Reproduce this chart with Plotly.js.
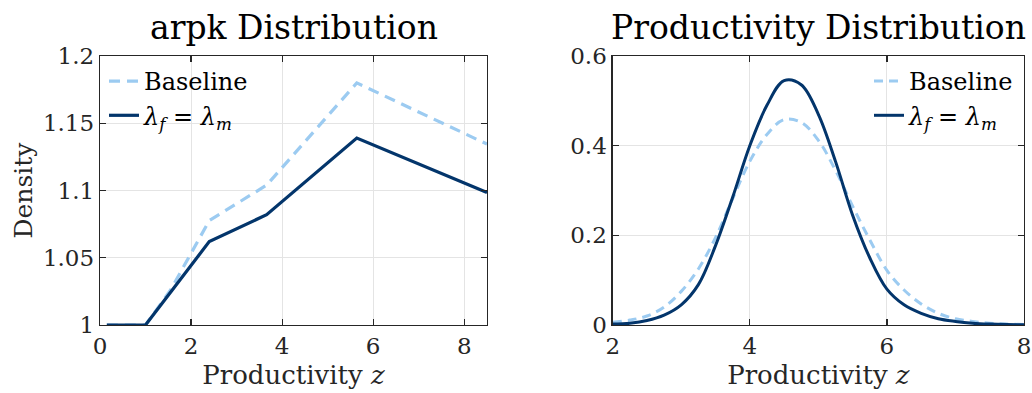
<!DOCTYPE html>
<html>
<head>
<meta charset="utf-8">
<script src="https://cdn.plot.ly/plotly-3.0.1.min.js"></script>
<style>html,body{margin:0;padding:0;background:#fff;}#chart{width:1032px;height:393px;}</style>
</head>
<body>
<div id="chart"></div>
<script>
// ---- Left panel: arpk distribution ----
const zArpk = [0.15, 1.0, 1.55, 2.4, 3.66, 5.64, 8.5];
const arpkBaseline = [1.0, 1.0, 1.026, 1.0776, 1.104, 1.180, 1.1345];
const arpkEqual = [1.0, 1.0, 1.0244, 1.062, 1.082, 1.139, 1.0985];

// ---- Right panel: productivity distribution ----
const zProd = [2.0, 2.25, 2.5, 2.75, 3.0, 3.25, 3.5, 3.75, 4.0, 4.25, 4.5, 4.75, 5.0,
               5.25, 5.5, 5.75, 6.0, 6.25, 6.5, 6.75, 7.0, 7.25, 7.5, 7.75, 8.0];
const prodBaseline = [0.006, 0.011, 0.020, 0.040, 0.075, 0.125, 0.195, 0.282, 0.365, 0.425, 0.458, 0.452, 0.412,
                      0.345, 0.265, 0.190, 0.122, 0.078, 0.047, 0.026, 0.014, 0.008, 0.004, 0.002, 0.001];
const prodEqual = [0.002, 0.004, 0.010, 0.022, 0.045, 0.090, 0.177, 0.285, 0.400, 0.490, 0.545, 0.536, 0.470,
                   0.365, 0.245, 0.150, 0.080, 0.045, 0.026, 0.014, 0.008, 0.004, 0.002, 0.001, 0.0005];

const leftTicks = [0, 2, 4, 6, 8];
const rightTicks = [2, 4, 6, 8];
const leftYTicks = [1, 1.05, 1.1, 1.15, 1.2];
const leftYLabels = ['1', '1.05', '1.1', '1.15', '1.2'];
const rightYTicks = [0, 0.2, 0.4, 0.6];
const rightYLabels = ['0', '0.2', '0.4', '0.6'];

const seriesNames = ['Baseline', '<i>λ<sub>f</sub></i> = <i>λ<sub>m</sub></i>'];

const FAM = 'DejaVu Serif';
const LIGHT = '#9ccbf1';
const DARK = '#03356b';

const traces = [
  {x: zArpk, y: arpkBaseline, xaxis: 'x', yaxis: 'y', mode: 'lines', name: seriesNames[0],
   line: {color: LIGHT, width: 3.2, dash: '11px,7px'}, legend: 'legend'},
  {x: zArpk, y: arpkEqual, xaxis: 'x', yaxis: 'y', mode: 'lines', name: seriesNames[1],
   line: {color: DARK, width: 3.2}, legend: 'legend'},
  {x: zProd, y: prodBaseline, xaxis: 'x2', yaxis: 'y2', mode: 'lines', name: seriesNames[0],
   line: {color: LIGHT, width: 3, dash: '9px,6px', shape: 'spline', smoothing: 1}, legend: 'legend2'},
  {x: zProd, y: prodEqual, xaxis: 'x2', yaxis: 'y2', mode: 'lines', name: seriesNames[1],
   line: {color: DARK, width: 3, shape: 'spline', smoothing: 1}, legend: 'legend2'}
];

const W = 1032, H = 393;
const axCommon = {
  showline: true, mirror: 'ticks', linecolor: '#262626', linewidth: 1.3,
  ticks: 'inside', ticklen: 6, tickcolor: '#262626', tickwidth: 1.2,
  showgrid: true, gridcolor: '#e4e4e4', gridwidth: 1,
  zeroline: false, automargin: false, fixedrange: true,
  tickfont: {family: FAM, size: 23, color: '#262626'}
};

const layout = {
  width: W, height: H,
  margin: {l: 0, r: 0, t: 0, b: 0},
  paper_bgcolor: '#ffffff', plot_bgcolor: '#ffffff',
  font: {family: FAM, color: '#262626', size: 23},
  showlegend: true,
  xaxis: Object.assign({}, axCommon, {
    domain: [100 / W, 487 / W], range: [0, 8.5], anchor: 'y',
    tickmode: 'array', tickvals: leftTicks, ticktext: leftTicks.map(String),
    title: {text: 'Productivity <i>z</i>', font: {family: FAM, size: 26, color: '#262626'}, standoff: 8}
  }),
  yaxis: Object.assign({}, axCommon, {
    domain: [1 - 325 / H, 1 - 56 / H], range: [1, 1.2], anchor: 'x',
    tickmode: 'array', tickvals: leftYTicks, ticktext: leftYLabels,
    title: {text: 'Density', font: {family: FAM, size: 25, color: '#262626'}, standoff: 3}
  }),
  xaxis2: Object.assign({}, axCommon, {
    domain: [612.7 / W, 1024 / W], range: [2, 8], anchor: 'y2',
    tickmode: 'array', tickvals: rightTicks, ticktext: rightTicks.map(String),
    title: {text: 'Productivity <i>z</i>', font: {family: FAM, size: 26, color: '#262626'}, standoff: 8}
  }),
  yaxis2: Object.assign({}, axCommon, {
    domain: [1 - 325 / H, 1 - 56 / H], range: [0, 0.6], anchor: 'x2',
    tickmode: 'array', tickvals: rightYTicks, ticktext: rightYLabels
  }),
  legend: {
    x: 104 / W, y: 1 - 59 / H, xanchor: 'left', yanchor: 'top',
    bgcolor: 'rgba(0,0,0,0)', borderwidth: 0,
    font: {family: FAM, size: 24, color: '#000000'}, itemwidth: 30, tracegroupgap: 0
  },
  legend2: {
    x: 1018 / W, y: 1 - 59 / H, xanchor: 'right', yanchor: 'top',
    bgcolor: 'rgba(0,0,0,0)', borderwidth: 0,
    font: {family: FAM, size: 24, color: '#000000'}, itemwidth: 30, tracegroupgap: 0
  },
  annotations: [
    {text: 'arpk Distribution', xref: 'paper', yref: 'paper', x: 293.5 / W, y: 1 - 27 / H,
     xanchor: 'center', yanchor: 'middle', showarrow: false, font: {family: FAM, size: 33, color: '#000000'}},
    {text: 'Productivity Distribution', xref: 'paper', yref: 'paper', x: 818 / W, y: 1 - 27 / H,
     xanchor: 'center', yanchor: 'middle', showarrow: false, font: {family: FAM, size: 33, color: '#000000'}}
  ]
};

Plotly.newPlot('chart', traces, layout, {displayModeBar: false, staticPlot: true});
</script>
</body>
</html>
